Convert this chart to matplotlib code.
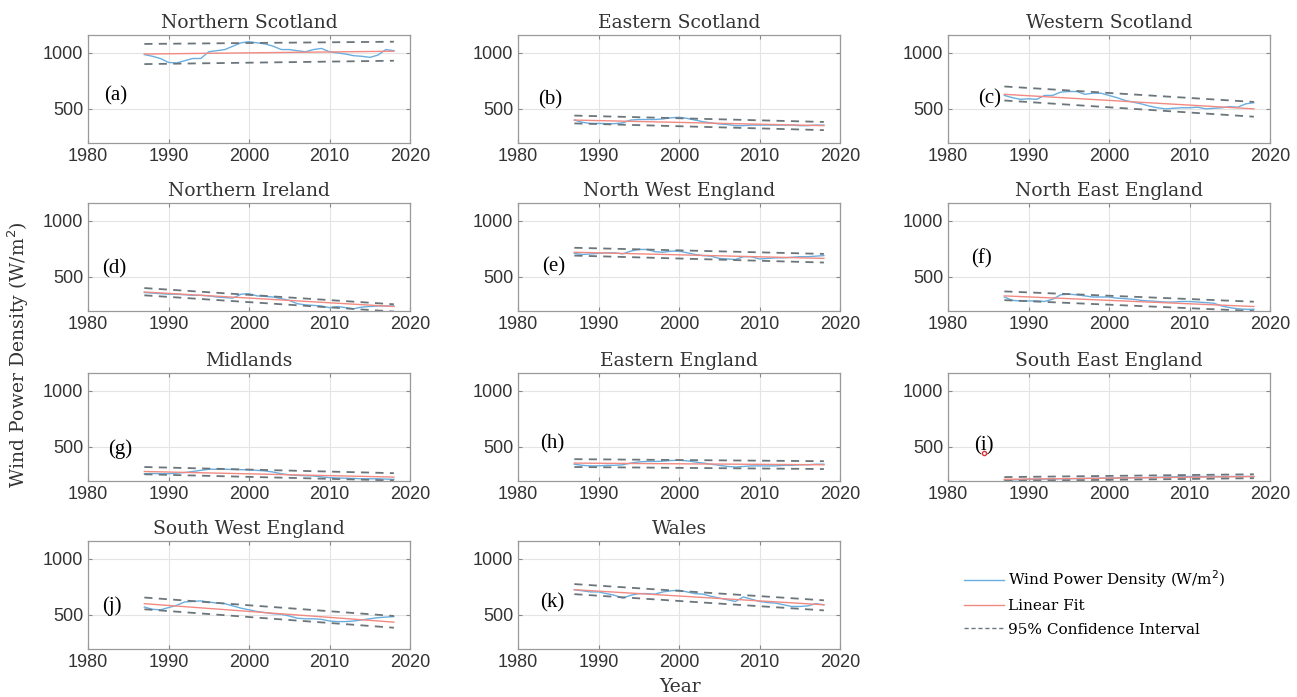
import numpy as np
import matplotlib
matplotlib.use("Agg")
import matplotlib.pyplot as plt

# ==========================================
# DATA
# ==========================================

years = list(range(1987, 2019))

regions = [
    "Northern Scotland", "Eastern Scotland", "Western Scotland",
    "Northern Ireland", "North West England", "North East England",
    "Midlands", "Eastern England", "South East England",
    "South West England", "Wales"
]
panel_tags = ["(a)", "(b)", "(c)", "(d)", "(e)", "(f)", "(g)", "(h)", "(i)", "(j)", "(k)"]

northern_scotland = [985, 970, 950, 915, 910, 930, 950, 950, 1010, 1020, 1030, 1060,
                     1090, 1100, 1090, 1080, 1060, 1030, 1030, 1020, 1010, 1030, 1040, 1010,
                     1000, 990, 975, 970, 960, 980, 1030, 1020]
eastern_scotland = [400, 380, 370, 370, 368, 368, 375, 400, 405, 405, 405, 410,
                    420, 425, 415, 400, 385, 375, 365, 360, 350, 350, 355, 355,
                    355, 355, 355, 355, 350, 350, 355, 355]
western_scotland = [620, 600, 585, 590, 585, 620, 620, 650, 655, 655, 630, 640,
                    640, 620, 600, 575, 560, 545, 525, 510, 500, 505, 510, 510,
                    515, 500, 505, 510, 520, 515, 545, 555]
northern_ireland = [360, 355, 350, 345, 345, 340, 335, 335, 330, 320, 315, 310,
                    345, 350, 330, 325, 320, 305, 290, 260, 250, 245, 240, 225,
                    235, 225, 215, 230, 235, 240, 240, 240]
north_west_england = [710, 700, 705, 710, 715, 715, 705, 730, 745, 745, 725, 720,
                      730, 730, 715, 700, 690, 685, 665, 660, 655, 680, 680, 660,
                      665, 670, 670, 675, 680, 680, 685, 690]
north_east_england = [320, 290, 285, 285, 285, 280, 300, 340, 345, 340, 330, 320,
                      320, 320, 310, 305, 300, 290, 285, 280, 275, 275, 280, 280,
                      275, 270, 265, 240, 225, 215, 210, 210]
midlands = [260, 262, 260, 260, 265, 270, 280, 290, 300, 300, 300, 298,
            296, 295, 290, 285, 275, 260, 250, 245, 242, 240, 232, 225,
            222, 220, 218, 215, 215, 215, 212, 210]
eastern_england = [345, 335, 330, 330, 335, 335, 340, 355, 365, 370, 370, 372,
                   378, 380, 375, 365, 355, 345, 335, 325, 320, 325, 330, 330,
                   330, 330, 335, 335, 340, 340, 345, 345]
south_east_england = [205, 205, 207, 210, 210, 212, 213, 215, 215, 217, 218, 220,
                      220, 222, 222, 224, 225, 225, 226, 228, 230, 232, 234, 235,
                      235, 235, 236, 235, 235, 236, 236, 235]
south_west_england = [570, 550, 545, 565, 585, 615, 620, 625, 615, 605, 600, 580,
                      560, 545, 530, 520, 510, 505, 490, 470, 465, 465, 460, 445,
                      440, 440, 445, 455, 465, 475, 480, 485]
wales = [725, 715, 705, 705, 690, 675, 650, 675, 690, 690, 685, 705,
         715, 720, 705, 690, 685, 665, 650, 635, 620, 660, 640, 620,
         610, 605, 590, 575, 575, 580, 600, 590]

density = [northern_scotland, eastern_scotland, western_scotland,
           northern_ireland, north_west_england, north_east_england,
           midlands, eastern_england, south_east_england,
           south_west_england, wales]

# linear fit and 95% CI lines (value at 1987, value at 2018)
fit_ends = [(990, 1015), (400, 350), (630, 500), (365, 235), (720, 665), (330, 235),
            (280, 230), (355, 340), (210, 235), (600, 435), (725, 590)]
ci_upper = [(1080, 1100), (440, 383), (700, 562), (400, 255), (760, 705), (370, 278),
            (320, 265), (390, 372), (230, 255), (655, 490), (775, 630)]
ci_lower = [(900, 930), (370, 310), (575, 430), (335, 190), (690, 628), (292, 195),
            (255, 200), (320, 302), (195, 220), (550, 385), (685, 540)]

# tag positions (year, value)
tag_pos = [(1983.4, 620), (1984.0, 580), (1985.2, 585), (1983.3, 575), (1984.4, 590),
           (1984.2, 660), (1984.0, 480), (1984.2, 525), (1984.4, 505), (1983.0, 575),
           (1984.2, 605)]

# ==========================================
# FIGURE
# ==========================================

W, H = 1297, 697
fig = plt.figure(figsize=(W / 100, H / 100), dpi=100)

col_left = [88, 518, 948]
row_top = [35, 203, 373, 541]
ax_w, ax_h = 322, 108

blue = "#6aaee0"
red = "#f28a82"
grey = "#6b767c"
title_font = "DejaVu Serif"
tick_font = "Liberation Sans"

for i, name in enumerate(regions):
    r, c = divmod(i, 3)
    ax = fig.add_axes([col_left[c] / W, 1 - (row_top[r] + ax_h) / H, ax_w / W, ax_h / H])

    ax.plot(years, density[i], color=blue, linewidth=1.0)
    end_years = [years[0], years[-1]]
    ax.plot(end_years, fit_ends[i], color=red, linewidth=1.0)
    ax.plot(end_years, ci_upper[i], color=grey, linestyle=(0, (4.5, 3.5)), linewidth=1.3)
    ax.plot(end_years, ci_lower[i], color=grey, linestyle=(0, (4.5, 3.5)), linewidth=1.3)

    if panel_tags[i] == "(i)":
        ax.plot([1984.5], [445], marker="o", markersize=3, color="#e0303a",
                markerfacecolor="none")

    ax.text(tag_pos[i][0], tag_pos[i][1], panel_tags[i], fontsize=15,
            family="Liberation Serif", ha="center", va="center")

    ax.set_xlim(1980, 2020)
    ax.set_ylim(195, 1160)
    ax.set_xticks([1980, 1990, 2000, 2010, 2020])
    ax.set_yticks([500, 1000])
    ax.grid(True, color="#e4e4e4", linewidth=0.8)
    ax.tick_params(direction="in", length=3, color="#888888", labelsize=13,
                   labelcolor="#333333", top=True, right=True)
    for lab in ax.get_xticklabels() + ax.get_yticklabels():
        lab.set_family(tick_font)
    for sp in ax.spines.values():
        sp.set_color("#9a9a9a")
        sp.set_linewidth(0.9)
    ax.set_title(name, fontsize=13.5, family=title_font, color="#333333", pad=5)

# legend lines in the empty slot
leg_ax = fig.add_axes([965 / W, 1 - 645 / H, 260 / W, 85 / H])
leg_ax.axis("off")
h1, = leg_ax.plot([], [], color=blue, linewidth=1.0)
h2, = leg_ax.plot([], [], color=red, linewidth=1.0)
h3, = leg_ax.plot([], [], color=grey, linestyle=(0, (3, 2)), linewidth=1.0)
leg_ax.legend([h1, h2, h3],
              ["Wind Power Density (W/m$^2$)", "Linear Fit", "95% Confidence Interval"],
              loc="center", frameon=False, handlelength=2.6, handletextpad=0.3,
              labelspacing=0.6, prop={"family": title_font, "size": 11})

fig.text(18 / W, 1 - 355 / H, "Wind Power Density (W/m$^2$)", rotation=90,
         ha="center", va="center", fontsize=13.5, family=title_font, color="#333333")
fig.text(680 / W, 1 - 687 / H, "Year", ha="center", va="center",
         fontsize=13.5, family=title_font, color="#333333")

plt.savefig("out.png", dpi=100)
